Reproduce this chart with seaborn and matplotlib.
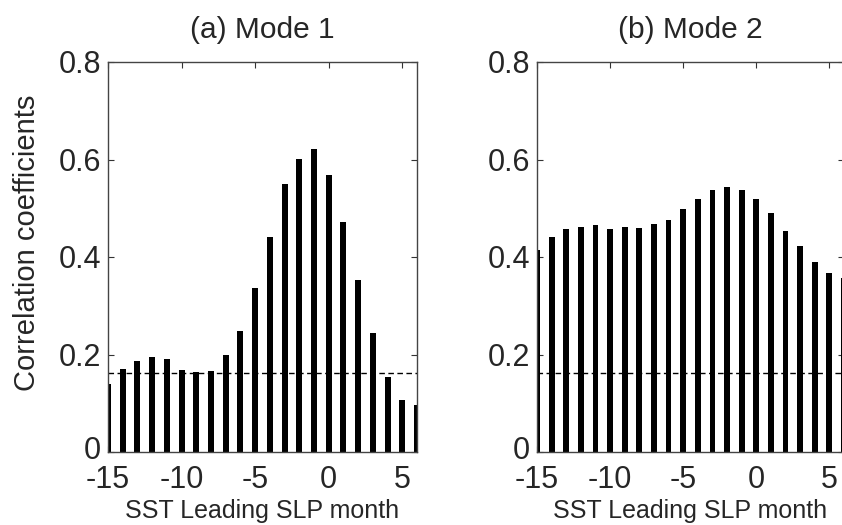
import numpy as np
import pandas as pd
import matplotlib
matplotlib.use("Agg")
import matplotlib.pyplot as plt
import matplotlib.transforms as mtransforms
import seaborn as sns

months = list(range(-15, 7))
mode1 = [0.140, 0.170, 0.186, 0.195, 0.190, 0.169, 0.164, 0.167, 0.198, 0.248, 0.336,
         0.440, 0.549, 0.602, 0.621, 0.568, 0.471, 0.353, 0.244, 0.154, 0.106, 0.096]
mode2 = [0.415, 0.442, 0.458, 0.462, 0.465, 0.457, 0.462, 0.460, 0.467, 0.476, 0.499,
         0.519, 0.538, 0.544, 0.538, 0.518, 0.491, 0.453, 0.422, 0.390, 0.368, 0.357]
threshold = 0.162
titles = ["(a) Mode 1", "(b) Mode 2"]
xticks = [-15, -10, -5, 0, 5]
yticks = [0, 0.2, 0.4, 0.6, 0.8]
yticklabels = ["0", "0.2", "0.4", "0.6", "0.8"]
xlabel = "SST Leading SLP month"
ylabel = "Correlation coefficients"

sns.set_style("ticks")
plt.rcParams["font.family"] = ["Liberation Sans", "DejaVu Sans"]

fig = plt.figure(figsize=(8.42, 5.25), dpi=100)
W, H = 842, 525
ax_rects = [
    [108 / W, (H - 452) / H, 309 / W, 390 / H],
    [537 / W, (H - 452) / H, 307 / W, 390 / H],
]

for rect, vals, title in zip(ax_rects, [mode1, mode2], titles):
    ax = fig.add_axes(rect)
    df = pd.DataFrame({"month": months, "r": vals})
    sns.barplot(data=df, x="month", y="r", native_scale=True, width=0.4,
                color="black", saturation=1, edgecolor="none", ax=ax)
    ax.axhline(threshold, color="black", lw=1.0, ls=(0, (4, 2.5)))
    ax.set_xlim(-15, 6)
    ax.set_ylim(0, 0.8)
    ax.set_xticks(xticks)
    ax.set_xticklabels([str(t) for t in xticks])
    ax.set_yticks(yticks)
    ax.set_yticklabels(yticklabels)
    ax.tick_params(direction="in", length=4, width=0.8, top=True, right=True,
                   labelsize=22, color="#333333")
    ax.tick_params(axis="x", pad=9)
    ax.tick_params(axis="y", pad=5)
    # nudge the "0" label up slightly so it clears the "-15" label
    lab0 = ax.get_yticklabels()[0]
    lab0.set_transform(lab0.get_transform() +
                       mtransforms.ScaledTranslation(0, 3 / 72, fig.dpi_scale_trans))
    for s in ax.spines.values():
        s.set_visible(True)
        s.set_linewidth(1.0)
        s.set_color("#444444")
    ax.set_title(title, fontsize=21.5, pad=17)
    ax.set_xlabel(xlabel, fontsize=18, labelpad=3)
    ax.set_ylabel("")

fig.text(27 / W, 1 - 243 / H, ylabel, rotation=90, fontsize=21,
         ha="center", va="center")

fig.savefig("out.png", dpi=100)
